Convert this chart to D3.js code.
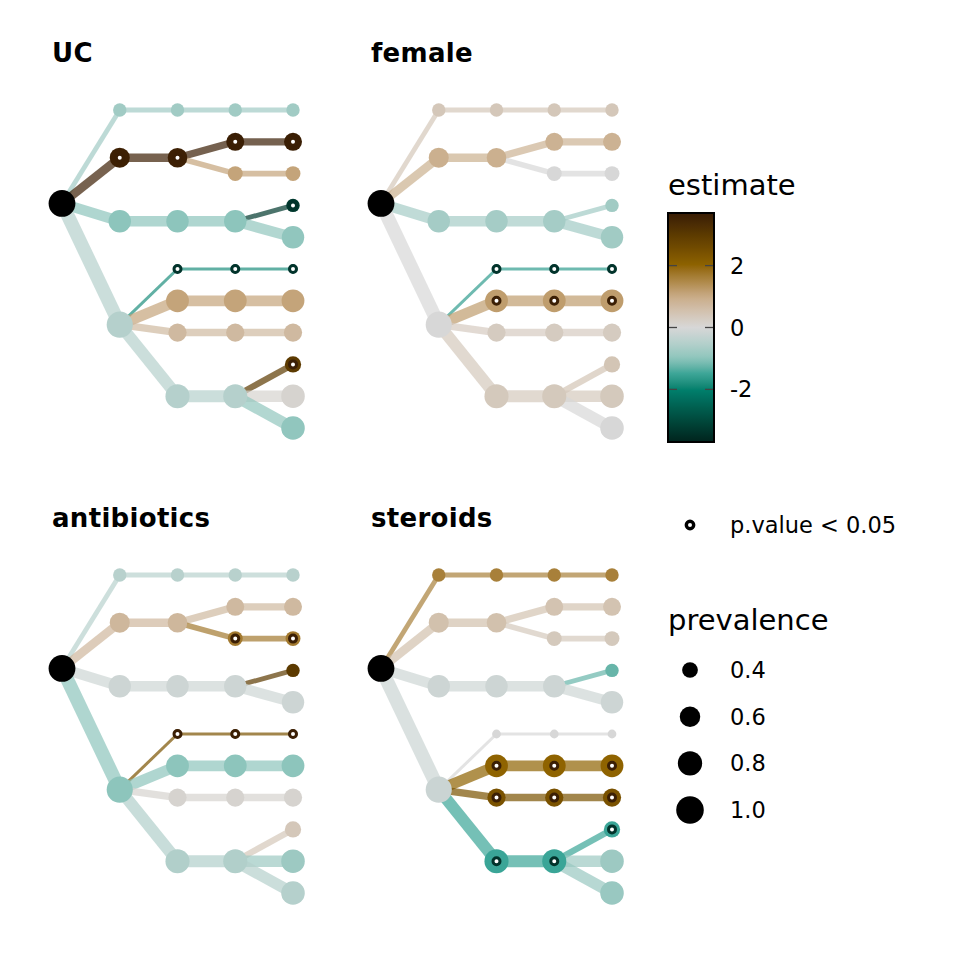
<!DOCTYPE html>
<html><head><meta charset="utf-8">
<script src="https://cdn.jsdelivr.net/npm/d3@7"></script>
<style>body{margin:0;background:#fff}svg{display:block}text{font-family:"DejaVu Sans",sans-serif}</style>
</head><body>
<svg id="chart" width="960" height="960"></svg>
<script>
// ---------------- data ----------------
const nodeIds = ["root",
  "A","B","C","D",
  "A.1","B.1","C.1","D.1","D.2","D.3","D.4",
  "A.1.1","B.1.1","B.1.2","C.1.1","D.1.1","D.2.1","D.3.1","D.4.1",
  "A.1.1.1","B.1.1.1","B.1.2.1","C.1.1.1","C.1.1.2","D.1.1.1","D.2.1.1","D.3.1.1","D.4.1.1","D.4.1.2","D.4.1.3"];

const prevalence = [0.95,
  0.32,0.58,0.70,0.91,
  0.32,0.56,0.70,0.20,0.72,0.50,0.79,
  0.32,0.49,0.37,0.70,0.20,0.72,0.50,0.79,
  0.32,0.49,0.37,0.32,0.70,0.20,0.72,0.50,0.42,0.76,0.76];

const panels = ["UC","female","antibiotics","steroids"];

const estUC = [null,
  -0.75,3.6,-1.0,-0.5,
  -0.75,3.6,-1.0,-1.8,1.1,0.7,-0.5,
  -0.75,3.65,1.1,-1.0,-1.8,1.1,0.7,-0.5,
  -0.75,3.65,1.1,-3.3,-0.95,-1.8,1.1,0.7,3.0,0.1,-0.95];
const sigUC = ["B","B.1","B.1.1","B.1.1.1","C.1.1.1","D.1","D.1.1","D.1.1.1","D.4.1.1"];

const estFemale = [null,
  0.4,0.9,-0.7,0.0,
  0.4,0.9,-0.7,-1.6,1.2,0.3,0.35,
  0.4,0.85,0.0,-0.7,-1.6,1.2,0.3,0.35,
  0.4,0.85,0.0,-0.75,-0.75,-1.6,1.2,0.3,0.45,0.35,0.0];
const sigFemale = ["D.1","D.1.1","D.1.1.1","D.2","D.2.1","D.2.1.1"];

const estAntibiotics = [null,
  -0.45,0.75,-0.15,-1.0,
  -0.45,0.75,-0.15,2.4,-1.0,0.1,-0.55,
  -0.45,0.7,1.7,-0.15,2.4,-1.0,0.1,-0.55,
  -0.45,0.7,1.7,3.0,-0.15,2.4,-1.0,0.1,0.4,-0.8,-0.5];
const sigAntibiotics = ["B.1.2","B.1.2.1","D.1","D.1.1","D.1.1.1"];

const estSteroids = [null,
  1.6,0.55,-0.15,-0.2,
  1.6,0.55,-0.15,0.0,2.0,2.4,-1.5,
  1.6,0.5,0.35,-0.15,0.0,2.0,2.4,-1.5,
  1.6,0.5,0.35,-1.25,-0.15,0.0,2.0,2.4,-1.5,-0.8,-0.85];
const sigSteroids = ["D.2","D.2.1","D.2.1.1","D.3","D.3.1","D.3.1.1","D.4","D.4.1","D.4.1.1"];

const estimates = [estUC, estFemale, estAntibiotics, estSteroids];
const sigs = [sigUC, sigFemale, sigAntibiotics, sigSteroids];

const colourValues = [-3.7,-3,-2,-1.5,-1,-0.5,0,0.5,1,1.5,2,3,3.7];
const colourStops = ["#00241d","#00493c","#00806d","#3aa597","#8dc5bc","#b5d0cc","#d7d7d7","#d3c3b1","#c9ab87","#ae8846","#8f6300","#5c3a00","#381c04"];
const colourTicks = [2,0,-2];
const sizeBreaks = [0.4,0.6,0.8,1.0];

// ---------------- scales ----------------
const svg = d3.select("#chart");
const colour = d3.scaleLinear().domain(colourValues).range(colourStops).interpolate(d3.interpolateLab).clamp(true);
const area = d3.scaleLinear().domain([0.4,1.0]).range([62,190]);
const radius = v => Math.sqrt(Math.max(area(v), 9));
const lw = d3.scaleLinear().domain([0,1]).range([0,15]);

// hierarchy
const table = nodeIds.map((id,i)=>({id, parent: id==="root"?null:(id.includes(".")?id.slice(0,id.lastIndexOf(".")):"root"), idx:i}));
const root = d3.stratify().id(d=>d.id).parentId(d=>d.parent)(table);
root.leaves().forEach((l,i)=>{ l.ly = i+1; });
root.eachAfter(n=>{ if(n.children) n.ly = d3.mean(n.children, c=>c.ly); });

const xs = d3.scaleLinear().domain([0,4]).range([62,293]);
const ys = d3.scaleLinear().domain([1,11]).range([110,428]);
const colOff = [0,319], rowOff = [0,465];

function ringColour(e){ return e>0 ? "#3b1f05" : "#02332b"; }

panels.forEach((name,p)=>{
  const ox = colOff[p%2], oy = rowOff[Math.floor(p/2)];
  const est = estimates[p], sig = new Set(sigs[p]);
  const g = svg.append("g").attr("transform",`translate(${ox},${oy})`);
  g.append("text").attr("x",52).attr("y",62).attr("font-size",26).attr("font-weight","bold").attr("letter-spacing",0.3).text(name);
  const nodes = root.descendants();
  // edges
  g.append("g").selectAll("line").data(nodes.filter(n=>n.parent)).join("line")
    .attr("x1",n=>xs(n.parent.depth)).attr("y1",n=>ys(n.parent.ly))
    .attr("x2",n=>xs(n.depth)).attr("y2",n=>ys(n.ly))
    .attr("stroke",n=>colour(est[n.data.idx]))
    .attr("stroke-width",n=>lw(prevalence[n.data.idx]))
    .attr("stroke-opacity",0.7);
  // nodes
  g.append("g").selectAll("circle").data(nodes).join("circle")
    .attr("cx",n=>xs(n.depth)).attr("cy",n=>ys(n.ly))
    .attr("r",n=>radius(prevalence[n.data.idx]))
    .attr("fill",n=>n.parent?colour(est[n.data.idx]):"#000");
  // significance markers
  g.append("g").selectAll("circle").data(nodes.filter(n=>sig.has(n.id))).join("circle")
    .attr("cx",n=>xs(n.depth)).attr("cy",n=>ys(n.ly)).attr("r",3.5)
    .attr("fill","#fff").attr("stroke",n=>ringColour(est[n.data.idx])).attr("stroke-width",3);
});

// ---------------- legends ----------------
const lg = svg.append("g");
lg.append("text").attr("x",668).attr("y",195).attr("font-size",29).text("estimate");
const barY = d3.scaleLinear().domain([3.7,-3.7]).range([213,442]);
const defs = svg.append("defs");
const grad = defs.append("linearGradient").attr("id","cbar").attr("x1",0).attr("x2",0).attr("y1",0).attr("y2",1);
d3.range(0,41).forEach(i=>{
  const v = 3.7 - i*7.4/40;
  grad.append("stop").attr("offset",(i/40)).attr("stop-color",colour(v));
});
lg.append("rect").attr("x",668).attr("y",213).attr("width",46).attr("height",229).attr("fill","url(#cbar)").attr("stroke","#000").attr("stroke-width",2);
colourTicks.forEach(t=>{
  lg.append("line").attr("x1",669).attr("x2",677).attr("y1",barY(t)).attr("y2",barY(t)).attr("stroke","#444").attr("stroke-width",1.3);
  lg.append("line").attr("x1",705).attr("x2",713).attr("y1",barY(t)).attr("y2",barY(t)).attr("stroke","#444").attr("stroke-width",1.3);
  lg.append("text").attr("x",730).attr("y",barY(t)+8).attr("font-size",22.5).text(t);
});

lg.append("circle").attr("cx",690).attr("cy",525).attr("r",3.7).attr("fill","#fff").attr("stroke","#000").attr("stroke-width",3.4);
lg.append("text").attr("x",730).attr("y",533).attr("font-size",22.5).text("p.value < 0.05");

lg.append("text").attr("x",668).attr("y",630).attr("font-size",29).text("prevalence");
const legY = d3.scaleLinear().domain([0.4,1.0]).range([670,810]);
sizeBreaks.forEach(b=>{
  lg.append("circle").attr("cx",690).attr("cy",legY(b)).attr("r",radius(b)).attr("fill","#000");
  lg.append("text").attr("x",730).attr("y",legY(b)+8).attr("font-size",22.5).text(d3.format(".1f")(b));
});
</script>
</body></html>
